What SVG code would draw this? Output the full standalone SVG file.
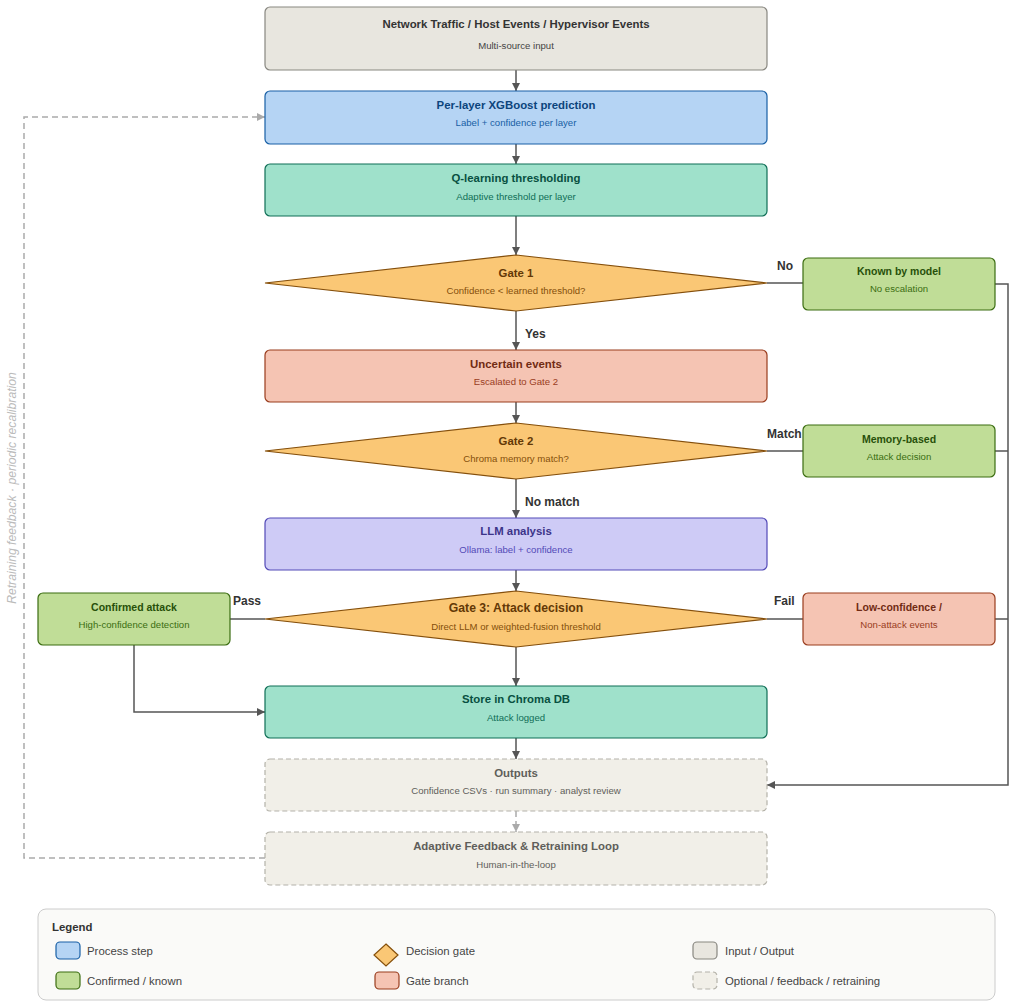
<svg xmlns="http://www.w3.org/2000/svg" width="1016" height="1007" viewBox="0 0 1016 1007">
<defs>
<marker id="ah" viewBox="0 0 10 10" refX="10" refY="5" markerWidth="8" markerHeight="8" markerUnits="userSpaceOnUse" orient="auto"><path d="M0,0 L10,5 L0,10 z" fill="#555"/></marker>
<marker id="ahg" viewBox="0 0 10 10" refX="10" refY="5" markerWidth="8" markerHeight="8" markerUnits="userSpaceOnUse" orient="auto"><path d="M0,0 L10,5 L0,10 z" fill="#aaa"/></marker>
<style>
text{font-family:"Liberation Sans",Arial,sans-serif;text-anchor:middle}
.t{font-size:11.4px;font-weight:bold}
.s{font-size:9.6px}
.st{font-size:10.5px;font-weight:bold}
.lbl{font-size:12px;font-weight:bold;fill:#333;text-anchor:start}
.c{fill:none;stroke:#555;stroke-width:1.5}
.cd{fill:none;stroke:#aaa;stroke-width:1.5;stroke-dasharray:6 4}
.gray{fill:#e8e6df;stroke:#888780;stroke-width:1.2}
.blue{fill:#b5d4f4;stroke:#185fa5;stroke-width:1.2}
.teal{fill:#9fe1cb;stroke:#0f6e56;stroke-width:1.2}
.amber{fill:#fac775;stroke:#854f0b;stroke-width:1.2}
.green{fill:#c0dd97;stroke:#3b6d11;stroke-width:1.2}
.coral{fill:#f5c4b3;stroke:#993c1d;stroke-width:1.2}
.purple{fill:#cecbf6;stroke:#534ab7;stroke-width:1.2}
.dash{fill:#f1efe8;stroke:#b4b2a9;stroke-width:1.2;stroke-dasharray:5 3}
.lg{font-size:11.4px;fill:#444;text-anchor:start}
</style>
</defs>
<rect width="1016" height="1007" fill="#ffffff"/>

<g id="connectors">
<line class="c" x1="516" y1="70" x2="516" y2="91" marker-end="url(#ah)"/>
<line class="c" x1="516" y1="144" x2="516" y2="164" marker-end="url(#ah)"/>
<line class="c" x1="516" y1="216" x2="516" y2="255" marker-end="url(#ah)"/>
<line class="c" x1="516" y1="311" x2="516" y2="350" marker-end="url(#ah)"/>
<line class="c" x1="767" y1="283" x2="803" y2="283"/>
<line class="c" x1="516" y1="402" x2="516" y2="423" marker-end="url(#ah)"/>
<line class="c" x1="767" y1="451" x2="803" y2="451"/>
<line class="c" x1="516" y1="479" x2="516" y2="518" marker-end="url(#ah)"/>
<line class="c" x1="516" y1="570" x2="516" y2="591" marker-end="url(#ah)"/>
<line class="c" x1="265" y1="619" x2="230" y2="619"/>
<line class="c" x1="767" y1="619" x2="803" y2="619"/>
<line class="c" x1="516" y1="647" x2="516" y2="686" marker-end="url(#ah)"/>
<polyline class="c" points="134,645 134,712 265,712" marker-end="url(#ah)"/>
<line class="c" x1="516" y1="738" x2="516" y2="759" marker-end="url(#ah)"/>
<polyline class="c" points="995,284 1008,284 1008,785 767,785" marker-end="url(#ah)"/>
<line class="c" x1="995" y1="451" x2="1008" y2="451"/>
<line class="c" x1="995" y1="619" x2="1008" y2="619"/>
<line class="cd" x1="516" y1="811" x2="516" y2="832" marker-end="url(#ahg)"/>
<polyline class="cd" points="265,858 24,858 24,117 265,117" marker-end="url(#ahg)"/>
<text class="lbl" x="525" y="338">Yes</text>
<text class="lbl" x="777" y="270">No</text>
<text class="lbl" x="767" y="438">Match</text>
<text class="lbl" x="525" y="506">No match</text>
<text class="lbl" x="233" y="605">Pass</text>
<text class="lbl" x="774" y="605">Fail</text>
<text x="16" y="488" transform="rotate(-90 16 488)" style="font-size:12.2px;font-style:italic;fill:#bbb">Retraining feedback · periodic recalibration</text>
</g>

<g id="input">
<rect class="gray" x="265" y="7" width="502" height="63" rx="5"/>
<text class="t" x="516" y="28" fill="#333">Network Traffic / Host Events / Hypervisor Events</text>
<text class="s" x="516" y="49" fill="#444">Multi-source input</text>
</g>
<g id="xgboost">
<rect class="blue" x="265" y="91" width="502" height="53" rx="5"/>
<text class="t" x="516" y="109" fill="#0c447c">Per-layer XGBoost prediction</text>
<text class="s" x="516" y="126" fill="#185fa5">Label + confidence per layer</text>
</g>
<g id="qlearning">
<rect class="teal" x="265" y="164" width="502" height="52" rx="5"/>
<text class="t" x="516" y="182" fill="#085041">Q-learning thresholding</text>
<text class="s" x="516" y="200" fill="#0f6e56">Adaptive threshold per layer</text>
</g>
<g id="gate1">
<polygon class="amber" points="516,255 767,283 516,311 265,283"/>
<text class="t" x="516" y="277" fill="#633806">Gate 1</text>
<text class="s" x="516" y="294" fill="#854f0b">Confidence &lt; learned threshold?</text>
</g>
<g id="known">
<rect class="green" x="803" y="258" width="192" height="52" rx="5"/>
<text class="st" x="899" y="275" fill="#27500a">Known by model</text>
<text class="s" x="899" y="292" fill="#3b6d11">No escalation</text>
</g>
<g id="uncertain">
<rect class="coral" x="265" y="350" width="502" height="52" rx="5"/>
<text class="t" x="516" y="368" fill="#712b13">Uncertain events</text>
<text class="s" x="516" y="385" fill="#993c1d">Escalated to Gate 2</text>
</g>
<g id="gate2">
<polygon class="amber" points="516,423 767,451 516,479 265,451"/>
<text class="t" x="516" y="445" fill="#633806">Gate 2</text>
<text class="s" x="516" y="462" fill="#854f0b">Chroma memory match?</text>
</g>
<g id="memory">
<rect class="green" x="803" y="425" width="192" height="52" rx="5"/>
<text class="st" x="899" y="443" fill="#27500a">Memory-based</text>
<text class="s" x="899" y="460" fill="#3b6d11">Attack decision</text>
</g>
<g id="llm">
<rect class="purple" x="265" y="518" width="502" height="52" rx="5"/>
<text class="t" x="516" y="535" fill="#3c3489">LLM analysis</text>
<text class="s" x="516" y="553" fill="#534ab7">Ollama: label + confidence</text>
</g>
<g id="gate3">
<polygon class="amber" points="516,591 767,619 516,647 265,619"/>
<text class="t" x="516" y="612" fill="#633806" style="font-size:12.2px">Gate 3: Attack decision</text>
<text class="s" x="516" y="630" fill="#854f0b">Direct LLM or weighted-fusion threshold</text>
</g>
<g id="confirmed">
<rect class="green" x="38" y="593" width="192" height="52" rx="5"/>
<text class="st" x="134" y="611" fill="#27500a">Confirmed attack</text>
<text class="s" x="134" y="628" fill="#3b6d11">High-confidence detection</text>
</g>
<g id="lowconf">
<rect class="coral" x="803" y="593" width="192" height="52" rx="5"/>
<text class="st" x="899" y="611" fill="#712b13">Low-confidence /</text>
<text class="s" x="899" y="628" fill="#993c1d">Non-attack events</text>
</g>
<g id="store">
<rect class="teal" x="265" y="686" width="502" height="52" rx="5"/>
<text class="t" x="516" y="703" fill="#085041">Store in Chroma DB</text>
<text class="s" x="516" y="721" fill="#0f6e56">Attack logged</text>
</g>
<g id="outputs">
<rect class="dash" x="265" y="759" width="502" height="52" rx="5"/>
<text class="t" x="516" y="777" fill="#5f5e5a">Outputs</text>
<text class="s" x="516" y="794" fill="#5f5e5a">Confidence CSVs · run summary · analyst review</text>
</g>
<g id="feedback">
<rect class="dash" x="265" y="832" width="502" height="53" rx="5"/>
<text class="t" x="516" y="850" fill="#5f5e5a">Adaptive Feedback &amp; Retraining Loop</text>
<text class="s" x="516" y="868" fill="#5f5e5a">Human-in-the-loop</text>
</g>

<g id="legend">
<rect x="38" y="909" width="957" height="91" rx="8" fill="#fafaf8" stroke="#ccc" stroke-width="1"/>
<text x="52" y="931" style="font-size:11.4px;font-weight:bold;fill:#333;text-anchor:start">Legend</text>
<rect class="blue" x="56" y="942" width="24" height="17" rx="4"/>
<text class="lg" x="87" y="955">Process step</text>
<polygon class="amber" points="386,944 398,955 386,966 374,955"/>
<text class="lg" x="406" y="955">Decision gate</text>
<rect class="gray" x="693" y="942" width="24" height="17" rx="4"/>
<text class="lg" x="725" y="955">Input / Output</text>
<rect class="green" x="56" y="972" width="24" height="17" rx="4"/>
<text class="lg" x="87" y="985">Confirmed / known</text>
<rect class="coral" x="375" y="972" width="24" height="17" rx="4"/>
<text class="lg" x="406" y="985">Gate branch</text>
<rect class="dash" x="693" y="972" width="24" height="17" rx="4"/>
<text class="lg" x="725" y="985">Optional / feedback / retraining</text>
</g>
</svg>
